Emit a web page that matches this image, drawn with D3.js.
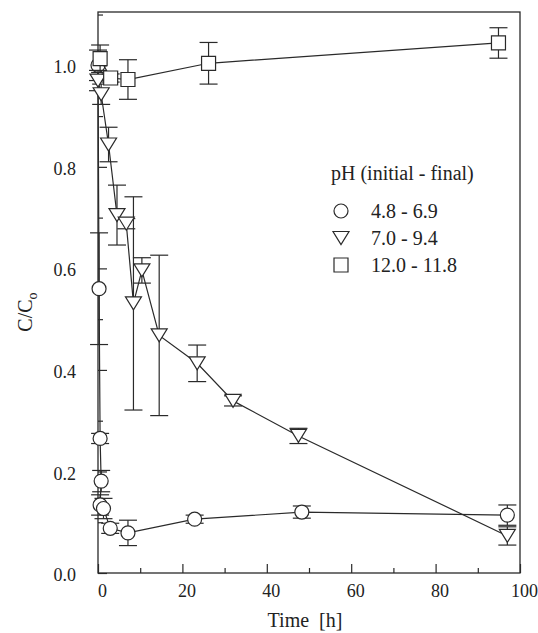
<!DOCTYPE html>
<html>
<head>
<meta charset="utf-8">
<style>
    body { margin: 0; background: #fff; }
    text { font-family: 'Liberation Serif', 'DejaVu Serif', serif; fill: #222; }
</style>
</head>
<body>
<div id="chart"></div>
<script src="https://cdn.jsdelivr.net/npm/d3@7/dist/d3.min.js"></script>
<script>
    var width = 538,
        height = 633;

    // pH 4.8 - 6.9 (circles)
    var circleTime = [0, 0.25, 0.5, 0.75, 0.5, 1.3, 2.9, 7.1, 22.9, 48.3, 97];
    var circleVal  = [1.0, 0.56, 0.265, 0.181, 0.134, 0.127, 0.088, 0.079, 0.106, 0.12, 0.114];
    var circleErr  = [0.03, 0.11, 0.01, 0.021, 0.02, 0.02, 0.01, 0.025, 0.008, 0.012, 0.02];

    // pH 7.0 - 9.4 (triangles)
    var triTime = [0, 0.75, 2.5, 4.5, 6.7, 8.4, 10.4, 14.5, 23.5, 32, 47.5, 97];
    var triVal  = [0.97, 0.943, 0.844, 0.705, 0.688, 0.531, 0.596, 0.468, 0.413, 0.339, 0.27, 0.073];
    var triErr  = [0.02, 0.02, 0.034, 0.059, 0.01, 0.21, 0.025, 0.158, 0.036, 0.01, 0.015, 0.018];

    // pH 12.0 - 11.8 (squares)
    var sqTime = [0.5, 3, 7.1, 26.2, 94.9];
    var sqVal  = [1.013, 0.975, 0.972, 1.004, 1.044];
    var sqErr  = [0.027, 0.008, 0.039, 0.041, 0.03];

    var xTicks = [0, 20, 40, 60, 80, 100];
    var xMinor = [10, 30, 50, 70, 90];
    var yTicks = [0.0, 0.2, 0.4, 0.6, 0.8, 1.0];
    var yMinor = [0.1, 0.3, 0.5, 0.7, 0.9, 1.1];

    var legendTitle = 'pH (initial - final)';
    var legendLabels = ['4.8 - 6.9', '7.0 - 9.4', '12.0 - 11.8'];

    var plotL = 98, plotR = 520, plotT = 12, plotB = 573;
    var ink = '#2a2a2a';

    var x = d3.scaleLinear().domain([0, 100]).range([plotL, plotR]);
    var y = d3.scaleLinear().domain([0, 1.105]).range([plotB, plotT]);

    var svg = d3.select('#chart')
        .append('svg')
        .attr('width', width)
        .attr('height', height);

    function zip(t, v, e){
        return t.map(function(d, i){ return {t: d, v: v[i], e: e[i]}; });
    }
    var circles = zip(circleTime, circleVal, circleErr);
    var tris = zip(triTime, triVal, triErr);
    var squares = zip(sqTime, sqVal, sqErr);

    // axes
    function styleAxis(g){
        g.select('.domain').remove();
        g.selectAll('line').attr('stroke', ink).attr('stroke-width', 1.2);
        g.selectAll('text').style('font-family', "'Liberation Serif', serif").style('font-size', '18px').attr('fill', ink);
    }

    svg.append('g')
        .attr('transform', 'translate(0,' + plotB + ')')
        .call(d3.axisBottom(x).tickValues(xTicks).tickSize(-9).tickPadding(11).tickFormat(d3.format('d')))
        .call(styleAxis)
        .selectAll('text').attr('dx', 4);

    svg.append('g')
        .attr('transform', 'translate(0,' + plotB + ')')
        .call(d3.axisBottom(x).tickValues(xMinor).tickSize(-5).tickFormat(''))
        .call(styleAxis);

    svg.append('g')
        .attr('transform', 'translate(' + plotL + ',0)')
        .call(d3.axisLeft(y).tickValues(yTicks).tickSize(-9).tickPadding(22).tickFormat(d3.format('.1f')))
        .call(styleAxis)
        .selectAll('text').attr('dy', '0.42em');

    svg.append('g')
        .attr('transform', 'translate(' + plotL + ',0)')
        .call(d3.axisLeft(y).tickValues(yMinor).tickSize(-5).tickFormat(''))
        .call(styleAxis);

    svg.append('rect')
        .attr('x', plotL).attr('y', plotT)
        .attr('width', plotR - plotL).attr('height', plotB - plotT)
        .attr('fill', 'none')
        .attr('stroke', ink)
        .attr('stroke-width', 1.3);

    // axis titles
    svg.append('text')
        .attr('x', 305).attr('y', 627)
        .attr('text-anchor', 'middle')
        .style('font-size', '20px')
        .attr('xml:space', 'preserve')
        .text('Time  [h]');

    var yl = svg.append('text')
        .attr('transform', 'translate(32,312) rotate(-90)')
        .attr('text-anchor', 'middle')
        .style('font-size', '20px');
    yl.append('tspan').text('C/C');
    yl.append('tspan').attr('dy', 5).style('font-size', '14px').text('o');

    var line = d3.line()
        .x(function(d){ return x(d.t); })
        .y(function(d){ return y(d.v); });

    var capW = 9;

    function drawSeries(data, shape){
        var g = svg.append('g');
        g.append('path')
            .datum(data)
            .attr('d', line)
            .attr('fill', 'none')
            .attr('stroke', ink)
            .attr('stroke-width', 1.2);

        var eb = g.selectAll('.err').data(data).enter().append('g');
        eb.append('line')
            .attr('x1', function(d){ return x(d.t); })
            .attr('x2', function(d){ return x(d.t); })
            .attr('y1', function(d){ return y(d.v + d.e); })
            .attr('y2', function(d){ return y(d.v - d.e); });
        eb.append('line')
            .attr('x1', function(d){ return x(d.t) - capW; })
            .attr('x2', function(d){ return x(d.t) + capW; })
            .attr('y1', function(d){ return y(d.v + d.e); })
            .attr('y2', function(d){ return y(d.v + d.e); });
        eb.append('line')
            .attr('x1', function(d){ return x(d.t) - capW; })
            .attr('x2', function(d){ return x(d.t) + capW; })
            .attr('y1', function(d){ return y(d.v - d.e); })
            .attr('y2', function(d){ return y(d.v - d.e); });
        eb.selectAll('line').attr('stroke', ink).attr('stroke-width', 1.2);

        g.selectAll('.mk').data(data).enter().append('path')
            .attr('transform', function(d){ return 'translate(' + x(d.t) + ',' + y(d.v) + ')'; })
            .attr('d', shape)
            .attr('fill', '#fff')
            .attr('stroke', ink)
            .attr('stroke-width', 1.2);
    }

    var circlePath = 'M -7 0 A 7 7 0 1 0 7 0 A 7 7 0 1 0 -7 0 Z';
    var triPath = 'M -8 -6.5 L 8 -6.5 L 0 6.5 Z';
    var sqPath = 'M -7 -7 L 7 -7 L 7 7 L -7 7 Z';

    drawSeries(circles, circlePath);
    drawSeries(tris, triPath);
    drawSeries(squares, sqPath);

    // legend
    svg.append('text')
        .attr('x', 331).attr('y', 180)
        .style('font-size', '20px')
        .text(legendTitle);

    var shapes = [circlePath, triPath, sqPath];
    var leg = svg.selectAll('.leg').data(legendLabels).enter().append('g')
        .attr('transform', function(d, i){ return 'translate(341,' + (211 + i * 27) + ')'; });
    leg.append('path')
        .attr('d', function(d, i){ return shapes[i]; })
        .attr('fill', '#fff')
        .attr('stroke', ink)
        .attr('stroke-width', 1.2);
    leg.append('text')
        .attr('x', 30).attr('y', 7)
        .style('font-size', '20px')
        .text(function(d){ return d; });
</script>
</body>
</html>
